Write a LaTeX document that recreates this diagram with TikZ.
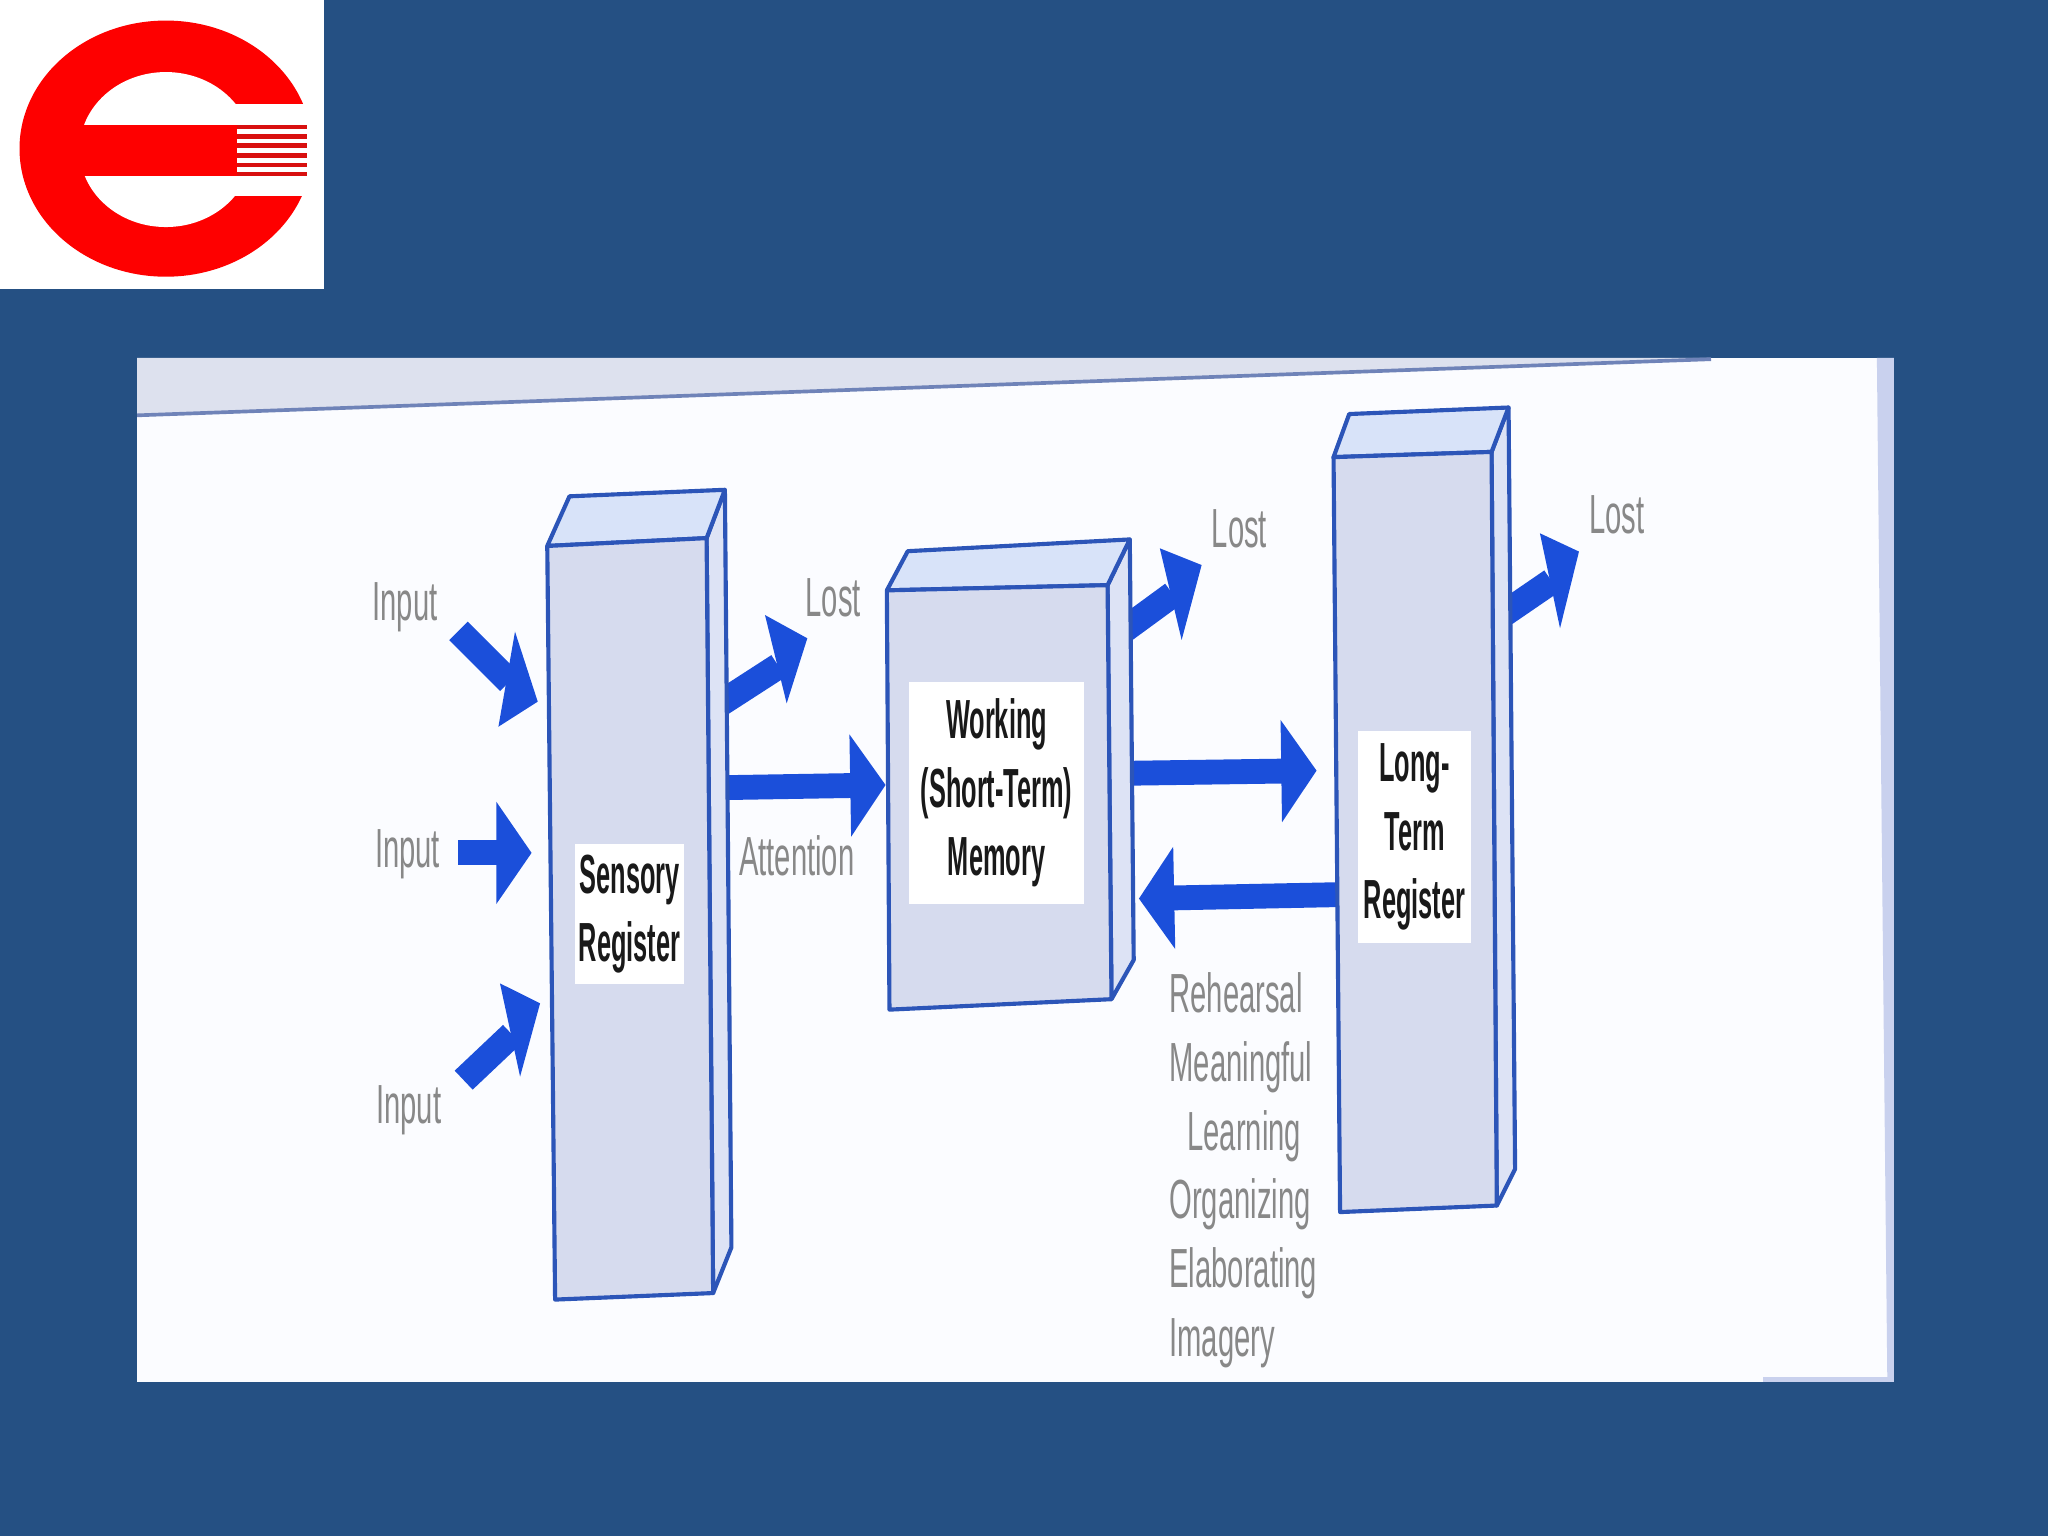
\documentclass[tikz,border=0pt]{standalone}
\usepackage{fontspec}
\setmainfont{Liberation Sans}
\usetikzlibrary{arrows.meta}

\definecolor{slideblue}{HTML}{255083}
\definecolor{logored}{HTML}{FE0000}
\definecolor{stripered}{HTML}{D8100F}
\definecolor{panelwhite}{HTML}{FBFCFF}
\definecolor{bandgrey}{HTML}{DDE1EE}
\definecolor{bandline}{HTML}{6F83B8}
\definecolor{edgestrip}{HTML}{C9D1EE}
\definecolor{frontface}{HTML}{D6DBEE}
\definecolor{topface}{HTML}{D8E3F9}
\definecolor{sideface}{HTML}{DDE3F5}
\definecolor{boxedge}{HTML}{2C55B8}
\definecolor{flowblue}{HTML}{1B4FDA}
\definecolor{textgrey}{HTML}{888888}

\tikzset{
    boxface/.style={draw=boxedge, line width=0.9pt, line join=round},
    boxlabel/.style={fill=white, inner sep=0pt, align=center, xscale=0.46,
        font=\fontsize{12}{14.9}\selectfont\bfseries, text=black!90},
    greylabel/.style={inner sep=0pt, xscale=0.53, text=textgrey,
        font=\fontsize{12}{15}\selectfont},
    flow/.style={draw=flowblue, line width=0.19cm,
        -{Triangle[length=0.27cm,width=0.77cm]}},
    flowshaft/.style={draw=flowblue, line width=0.2cm},
    flowhead/.style={fill=flowblue},
}

\begin{document}
\begin{tikzpicture}[x=0.01cm, y=-0.01cm]
    \useasboundingbox (0,0) rectangle (1568,1176);
    \fill [slideblue] (0,0) rectangle (1568,1176);

    \fill [white] (0,0) rectangle (248,221);
    \fill [logored] (127,113.8) ellipse (1.12cm and 0.98cm);
    \fill [white] (127,114.5) ellipse (0.66cm and 0.593cm);
    \fill [white] (180,79.6) rectangle (248,149.8);
    \fill [logored] (60,95.7) rectangle (181.7,134.7);
    \fill [stripered] (181.7,95.7) rectangle (234.8,99);
    \fill [stripered] (181.7,102.6) rectangle (234.8,106.7);
    \fill [stripered] (181.7,109.7) rectangle (234.8,113.6);
    \fill [stripered] (181.7,116.9) rectangle (234.8,121);
    \fill [stripered] (181.7,124.5) rectangle (234.8,128.1);
    \fill [stripered] (181.7,131.7) rectangle (234.8,134.7);

    \fill [panelwhite] (105,274) rectangle (1450,1058);
    \fill [bandgrey] (105,274) -- (1310,274) -- (105,318) -- cycle;
    \draw [bandline, line width=0.8pt] (105,318) -- (1310,275);
    \fill [edgestrip] (1437,274) -- (1450,274) -- (1450,1058) -- (1445,1058) -- cycle;
    \fill [edgestrip] (1350,1054) rectangle (1450,1058);

    \coordinate (inAstart) at (351,483);
    \coordinate (inAbase) at (390,522);
    \coordinate (inAtip) at (411.7,537.2);
    \coordinate (inBstart) at (351,653);
    \coordinate (inBend) at (407,653);
    \coordinate (inCstart) at (355,827);
    \coordinate (inCbase) at (392,792);
    \coordinate (inCtip) at (413.5,768.2);
    \coordinate (sensoryLost) at (548,541);
    \coordinate (lostAbase) at (596,510);
    \coordinate (lostAtip) at (618.1,488.7);
    \coordinate (sensoryOut) at (557,603);
    \coordinate (workingIn) at (678,601);
    \coordinate (workingLost) at (857,485);
    \coordinate (lostBbase) at (898,455);
    \coordinate (lostBtip) at (920,432.6);
    \coordinate (workingOut) at (866,592);
    \coordinate (longIn) at (1008,590);
    \coordinate (longOut) at (1023,685);
    \coordinate (workingBack) at (872,688);
    \coordinate (longLost) at (1148,472.4);
    \coordinate (lostCbase) at (1188,445);
    \coordinate (lostCtip) at (1208.9,422.3);

    \draw [flowshaft] (inAstart) -- (inAbase);
    \fill [flowhead] (394.3,483.6) -- (inAtip) -- (381.6,556.4) -- cycle;
    \draw [flow] (inBstart) -- (inBend);
    \draw [flowshaft] (inCstart) -- (inCbase);
    \fill [flowhead] (382.8,752.9) -- (inCtip) -- (398.2,824.3) -- cycle;
    \draw [flowshaft] (sensoryLost) -- (lostAbase);
    \fill [flowhead] (585.7,470.9) -- (lostAtip) -- (602.3,538.5) -- cycle;
    \draw [flow] (sensoryOut) -- (workingIn);
    \draw [flowshaft] (workingLost) -- (lostBbase);
    \fill [flowhead] (888,419.8) -- (lostBtip) -- (904.7,490) -- cycle;
    \draw [flow] (workingOut) -- (longIn);
    \draw [flow] (longOut) -- (workingBack);
    \draw [flowshaft] (longLost) -- (lostCbase);
    \fill [flowhead] (1179,408.3) -- (lostCtip) -- (1194.4,481) -- cycle;

    \filldraw [boxface, fill=sideface] (541,412) -- (555,375) -- (560,955) -- (546,990) -- cycle;
    \filldraw [boxface, fill=topface] (419,418) -- (436,380) -- (555,375) -- (541,412) -- cycle;
    \filldraw [boxface, fill=frontface] (419,418) -- (541,412) -- (546,990) -- (425,995) -- cycle;
    \node [boxlabel, minimum width=1.81cm, minimum height=1.07cm] (sensory) at (482,700) {Sensory\\Register};

    \filldraw [boxface, fill=sideface] (848,448) -- (865,413) -- (868,735) -- (851,765) -- cycle;
    \filldraw [boxface, fill=topface] (679,452) -- (695,422) -- (865,413) -- (848,448) -- cycle;
    \filldraw [boxface, fill=frontface] (679,452) -- (848,448) -- (851,765) -- (681,773) -- cycle;
    \node [boxlabel, minimum width=2.91cm, minimum height=1.7cm] (working) at (763,607) {Working\\(Short-Term)\\Memory};

    \filldraw [boxface, fill=sideface] (1142,346) -- (1155,312) -- (1160,895) -- (1146,923) -- cycle;
    \filldraw [boxface, fill=topface] (1021,350) -- (1033,317) -- (1155,312) -- (1142,346) -- cycle;
    \filldraw [boxface, fill=frontface] (1021,350) -- (1142,346) -- (1146,923) -- (1026,928) -- cycle;
    \node [boxlabel, minimum width=1.87cm, minimum height=1.62cm] (longterm) at (1083,641) {Long-\\Term\\Register};

    \node [greylabel] (inputA) at (310,465) {Input};
    \node [greylabel] (inputB) at (312,654) {Input};
    \node [greylabel] (inputC) at (313,850) {Input};
    \node [greylabel] (lostA) at (638,458) {Lost};
    \node [greylabel] (lostB) at (949,405) {Lost};
    \node [greylabel] (lostC) at (1238,394) {Lost};
    \node [greylabel] (attention) at (610,655) {Attention};
    \node [greylabel, anchor=west, align=left] (processes) at (895,896)
        {Rehearsal\\Meaningful\\\hspace*{0.26cm}Learning\\Organizing\\Elaborating\\Imagery};
\end{tikzpicture}
\end{document}
